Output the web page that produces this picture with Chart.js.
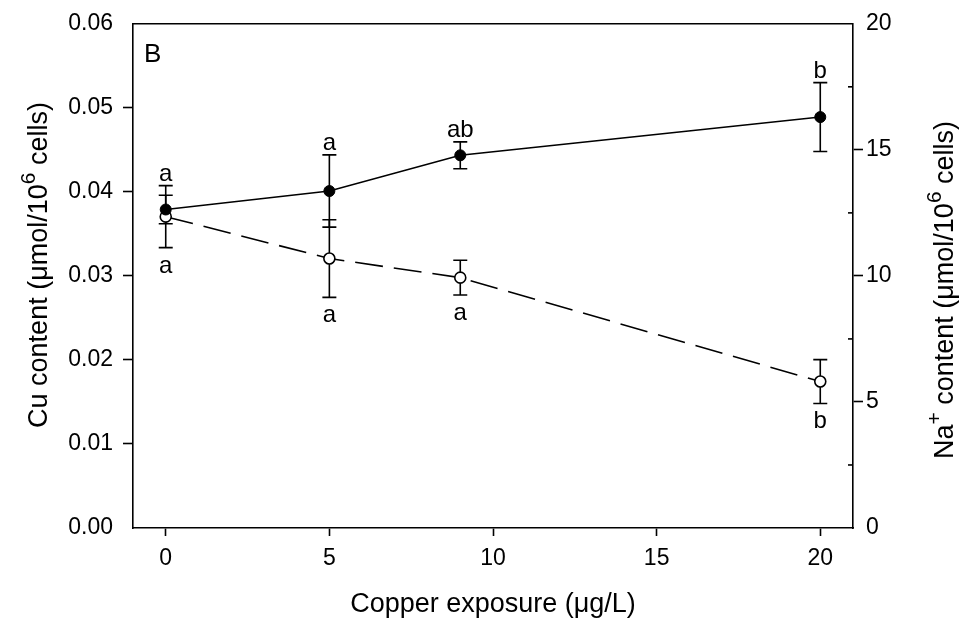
<!DOCTYPE html>
<html>
<head>
<meta charset="utf-8">
<script src="https://cdn.jsdelivr.net/npm/chart.js@4.4.0/dist/chart.umd.min.js"></script>
<style>
  html, body { margin: 0; padding: 0; background: #fff; }
  #wrap { width: 963px; height: 633px; }
</style>
</head>
<body>
<div id="wrap"><canvas id="chart"></canvas></div>
<script>
  // data
  var exposure    = [0, 5, 9, 20];
  var cuContent   = [0.0379, 0.0401, 0.04435, 0.0489];
  var cuError     = [0.0017, 0.0043, 0.0016, 0.0041];
  var naContent   = [12.35, 10.69, 9.93, 5.81];
  var naError     = [1.23, 1.54, 0.69, 0.87];
  var lettersAbove = ['a', 'a', 'ab', 'b'];
  var lettersBelow = ['a', 'a', 'a', 'b'];

  var xTicks       = [0, 5, 10, 15, 20];
  var cuTicks      = [0, 0.01, 0.02, 0.03, 0.04, 0.05, 0.06];
  var naTicks      = [0, 5, 10, 15, 20];
  var naMinorTicks = [2.5, 7.5, 12.5, 17.5];

  var panelLabel = 'B';
  var xTitle  = 'Copper exposure (μg/L)';
  var cuTitle = [['Cu content (μmol/10', false], ['6', true], [' cells)', false]];
  var naTitle = [['Na', false], ['+', true], [' content (μmol/10', false], ['6', true], [' cells)', false]];

  var FONT = '"Liberation Sans", Arial, sans-serif';

  function toPoints(xs, ys) {
    var out = [];
    for (var i = 0; i < xs.length; i++) out.push({x: xs[i], y: ys[i]});
    return out;
  }

  // text with superscripts, centred on (cx, cy), baseline at cy
  function drawRich(ctx, parts, cx, cy, angle, size, supSize, rise) {
    ctx.save();
    ctx.translate(cx, cy);
    ctx.rotate(angle);
    ctx.textAlign = 'left';
    ctx.textBaseline = 'alphabetic';
    ctx.fillStyle = '#000';
    var total = 0;
    parts.forEach(function(p) {
      ctx.font = (p[1] ? supSize : size) + 'px ' + FONT;
      total += ctx.measureText(p[0]).width;
    });
    var x = -total / 2;
    parts.forEach(function(p) {
      ctx.font = (p[1] ? supSize : size) + 'px ' + FONT;
      ctx.fillText(p[0], x, p[1] ? -rise : 0);
      x += ctx.measureText(p[0]).width;
    });
    ctx.restore();
  }

  function fixedTicks(values) {
    return function(scale) {
      scale.ticks = values.map(function(v) { return {value: v}; });
    };
  }

  function hideEndTicks(c) {
    var s = c.scale;
    if (c.tick && (c.tick.value === s.min || c.tick.value === s.max)) return 'rgba(0,0,0,0)';
    return '#000';
  }

  var errorBars = {
    id: 'errorBars',
    beforeDatasetsDraw: function(chart) {
      var ctx = chart.ctx, xs = chart.scales.x;
      var sets = [
        [chart.scales.yCu, cuContent, cuError],
        [chart.scales.yNa, naContent, naError]
      ];
      ctx.save();
      ctx.strokeStyle = '#000';
      ctx.lineWidth = 1.6;
      sets.forEach(function(s) {
        for (var i = 0; i < exposure.length; i++) {
          var px  = xs.getPixelForValue(exposure[i]);
          var top = s[0].getPixelForValue(s[1][i] + s[2][i]);
          var bot = s[0].getPixelForValue(s[1][i] - s[2][i]);
          ctx.beginPath();
          ctx.moveTo(px, top); ctx.lineTo(px, bot);
          ctx.moveTo(px - 7, top); ctx.lineTo(px + 7, top);
          ctx.moveTo(px - 7, bot); ctx.lineTo(px + 7, bot);
          ctx.stroke();
        }
      });
      ctx.restore();
    }
  };

  var annotations = {
    id: 'annotations',
    afterDraw: function(chart) {
      var ctx = chart.ctx, a = chart.chartArea;
      var xs = chart.scales.x, yCu = chart.scales.yCu, yNa = chart.scales.yNa;

      ctx.save();
      ctx.strokeStyle = '#000';
      ctx.lineWidth = 1.6;
      // top frame line
      ctx.beginPath();
      ctx.moveTo(a.left, a.top); ctx.lineTo(a.right, a.top);
      ctx.stroke();
      // inward minor ticks on the right axis
      naMinorTicks.forEach(function(v) {
        var py = yNa.getPixelForValue(v);
        ctx.beginPath();
        ctx.moveTo(a.right - 5, py); ctx.lineTo(a.right, py);
        ctx.stroke();
      });

      // significance letters
      ctx.fillStyle = '#000';
      ctx.font = '24px ' + FONT;
      ctx.textAlign = 'center';
      ctx.textBaseline = 'alphabetic';
      for (var i = 0; i < exposure.length; i++) {
        var px = xs.getPixelForValue(exposure[i]);
        var top = Math.min(yCu.getPixelForValue(cuContent[i] + cuError[i]),
                           yNa.getPixelForValue(naContent[i] + naError[i]));
        var bot = Math.max(yCu.getPixelForValue(cuContent[i] - cuError[i]),
                           yNa.getPixelForValue(naContent[i] - naError[i]));
        ctx.fillText(lettersAbove[i], px, top - 5);
        ctx.fillText(lettersBelow[i], px, bot + 25);
      }

      // panel label
      ctx.textAlign = 'left';
      ctx.font = '26px ' + FONT;
      ctx.fillText(panelLabel, a.left + 11, a.top + 38);
      ctx.restore();

      // axis titles
      drawRich(ctx, [[xTitle, false]], (a.left + a.right) / 2, 612, 0, 27, 21, 12);
      drawRich(ctx, cuTitle, 47, 265, -Math.PI / 2, 27, 21, 12);
      drawRich(ctx, naTitle, 953, 290, -Math.PI / 2, 27, 21, 12);
    }
  };

  var tickFont = {family: FONT, size: 23};

  new Chart(document.getElementById('chart').getContext('2d'), {
    type: 'scatter',
    data: {
      datasets: [
        {
          label: 'Cu',
          data: toPoints(exposure, cuContent),
          yAxisID: 'yCu',
          showLine: true,
          borderColor: '#000',
          borderWidth: 1.6,
          pointRadius: 5.5,
          pointBackgroundColor: '#000',
          pointBorderColor: '#000',
          pointBorderWidth: 1
        },
        {
          label: 'Na+',
          data: toPoints(exposure, naContent),
          yAxisID: 'yNa',
          showLine: true,
          borderColor: '#000',
          borderWidth: 1.6,
          borderDash: [28, 11],
          pointRadius: 5.5,
          pointBackgroundColor: '#fff',
          pointBorderColor: '#000',
          pointBorderWidth: 1.6
        }
      ]
    },
    options: {
      responsive: true,
      maintainAspectRatio: false,
      animation: false,
      layout: { padding: { top: 21, left: 0, right: 0, bottom: 0 } },
      plugins: { legend: { display: false }, tooltip: { enabled: false } },
      scales: {
        x: {
          type: 'linear',
          position: 'bottom',
          min: -1, max: 21,
          afterBuildTicks: fixedTicks(xTicks),
          afterFit: function(s) { s.height = 105; },
          border: { display: true, color: '#000', width: 1.6 },
          grid: { drawOnChartArea: false, drawTicks: true, tickLength: 8, tickColor: hideEndTicks, tickWidth: 1.6 },
          ticks: { color: '#000', font: tickFont, padding: 9, maxRotation: 0,
                   callback: function(v) { return String(v); } }
        },
        yCu: {
          type: 'linear',
          position: 'left',
          min: 0, max: 0.06,
          afterBuildTicks: fixedTicks(cuTicks),
          afterFit: function(s) { s.width = 133; },
          border: { display: true, color: '#000', width: 1.6 },
          grid: { drawOnChartArea: false, drawTicks: true, tickLength: 10, tickColor: hideEndTicks, tickWidth: 1.6 },
          ticks: { color: '#000', font: tickFont, padding: 10,
                   callback: function(v) { return v.toFixed(2); } }
        },
        yNa: {
          type: 'linear',
          position: 'right',
          min: 0, max: 20,
          afterBuildTicks: fixedTicks(naTicks),
          afterFit: function(s) { s.width = 110; },
          border: { display: true, color: '#000', width: 1.6 },
          grid: { drawOnChartArea: false, drawTicks: true, tickLength: 10, tickColor: hideEndTicks, tickWidth: 1.6 },
          ticks: { color: '#000', font: tickFont, padding: 3,
                   callback: function(v) { return String(v); } }
        }
      }
    },
    plugins: [errorBars, annotations]
  });
</script>
</body>
</html>
